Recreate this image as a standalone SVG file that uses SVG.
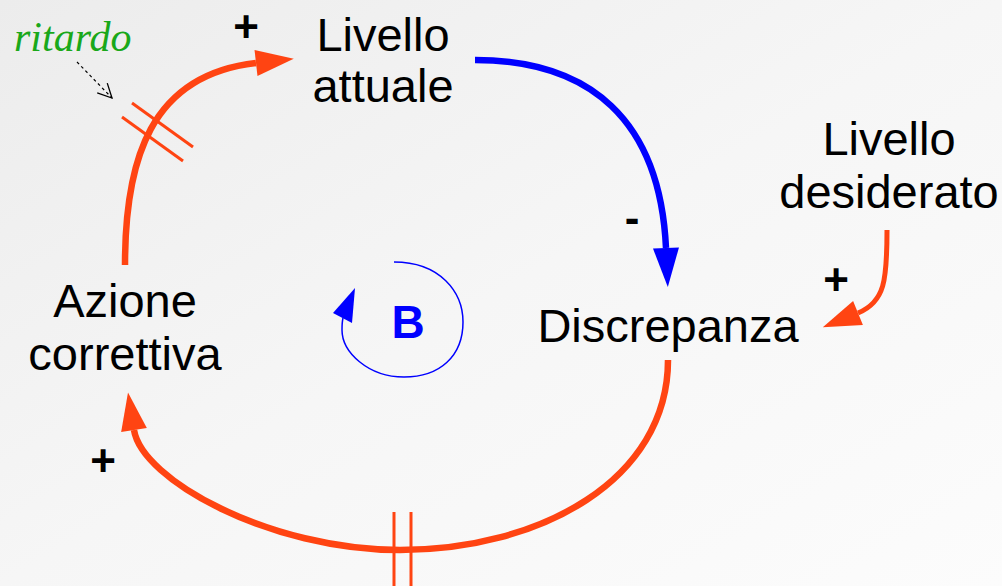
<svg xmlns="http://www.w3.org/2000/svg" width="1002" height="586" viewBox="0 0 1002 586">
  <defs>
    <linearGradient id="bg" x1="0" y1="0" x2="1" y2="1">
      <stop offset="0" stop-color="#ececec"/>
      <stop offset="0.5" stop-color="#f6f6f6"/>
      <stop offset="1" stop-color="#fcfcfc"/>
    </linearGradient>
    <marker id="headRed" markerUnits="userSpaceOnUse" markerWidth="40" markerHeight="28" refX="0" refY="13" orient="auto" overflow="visible">
      <path d="M0,0 L38,13 L0,26 Z" fill="#ff4412"/>
    </marker>
    <marker id="headBlue" markerUnits="userSpaceOnUse" markerWidth="40" markerHeight="28" refX="0" refY="13" orient="auto" overflow="visible">
      <path d="M0,0 L39,13 L0,26 Z" fill="#0000ff"/>
    </marker>
    <marker id="headOpen" markerUnits="userSpaceOnUse" markerWidth="20" markerHeight="20" refX="14" refY="7" orient="auto" overflow="visible">
      <path d="M0,0 L14,7 L0,14" fill="none" stroke="#000" stroke-width="1.3"/>
    </marker>
  </defs>
  <style>
    .lbl { font-family: "Liberation Sans", Arial, sans-serif; font-size: 47px; fill: #000; text-anchor: middle; }
    .sign { font-family: "Liberation Sans", Arial, sans-serif; font-size: 44px; font-weight: bold; fill: #000; text-anchor: middle; }
    .red { fill: none; stroke: #ff4412; stroke-width: 6.5; }
    .blue { fill: none; stroke: #0000ff; stroke-width: 6.5; }
    .delay { stroke: #ff4412; stroke-width: 3; fill: none; }
  </style>
  <rect x="0" y="0" width="1002" height="586" fill="url(#bg)"/>

  <g id="connectors">
    <path id="c-azione-livello" class="red" d="M125,265 C125,160 150,75 256,63" marker-end="url(#headRed)"/>
    <path id="c-livello-discrepanza" class="blue" d="M475,60 C590,60 660,120 666,248" marker-end="url(#headBlue)"/>
    <path id="c-desiderato-discrepanza" class="red" style="stroke-width:5" d="M887,230 C887,280 885,302 858,313" marker-end="url(#headRed)"/>
    <path id="c-discrepanza-azione" class="red" d="M668,360 C668,480 540,550 400,550 C270,550 142,480 134,430" marker-end="url(#headRed)"/>
    <g id="delay-top">
      <line class="delay" x1="132" y1="103" x2="193" y2="147"/>
      <line class="delay" x1="122" y1="117" x2="183" y2="161"/>
    </g>
    <g id="delay-bottom">
      <line class="delay" x1="394" y1="512" x2="394" y2="586"/>
      <line class="delay" x1="411" y1="512" x2="411" y2="586"/>
    </g>
    <line id="ritardo-pointer" x1="77" y1="62" x2="112" y2="98" stroke="#000" stroke-width="1.2" stroke-dasharray="3,3" marker-end="url(#headOpen)"/>
  </g>

  <g id="signs">
    <text class="sign" x="246" y="42">+</text>
    <text class="sign" x="632" y="233">-</text>
    <text class="sign" x="836" y="295">+</text>
    <text class="sign" x="103" y="476">+</text>
  </g>

  <g id="node-livello-attuale">
    <text class="lbl" x="383" y="51">Livello</text>
    <text class="lbl" x="383" y="102">attuale</text>
  </g>
  <g id="node-livello-desiderato">
    <text class="lbl" x="889" y="155">Livello</text>
    <text class="lbl" x="889" y="208">desiderato</text>
  </g>
  <g id="node-discrepanza">
    <text class="lbl" x="668" y="342">Discrepanza</text>
  </g>
  <g id="node-azione-correttiva">
    <text class="lbl" x="125" y="317">Azione</text>
    <text class="lbl" x="125" y="370">correttiva</text>
  </g>

  <g id="loop-B">
    <path d="M394,262 C440,262 463,292 463,322 C463,356 440,377 404,377 C368,377 342,352 342,330 C342,326 342,322 343,318" fill="none" stroke="#0000ff" stroke-width="1.5"/>
    <polygon points="355,288 333,313 352,323" fill="#0000ff"/>
    <text x="408" y="338" font-family="Liberation Sans, Arial, sans-serif" font-size="46" font-weight="bold" fill="#0000ff" text-anchor="middle">B</text>
  </g>

  <g id="label-ritardo">
    <text x="14" y="51" font-family="Liberation Serif, Times New Roman, serif" font-style="italic" font-size="42" fill="#1aa81a">ritardo</text>
  </g>
</svg>
